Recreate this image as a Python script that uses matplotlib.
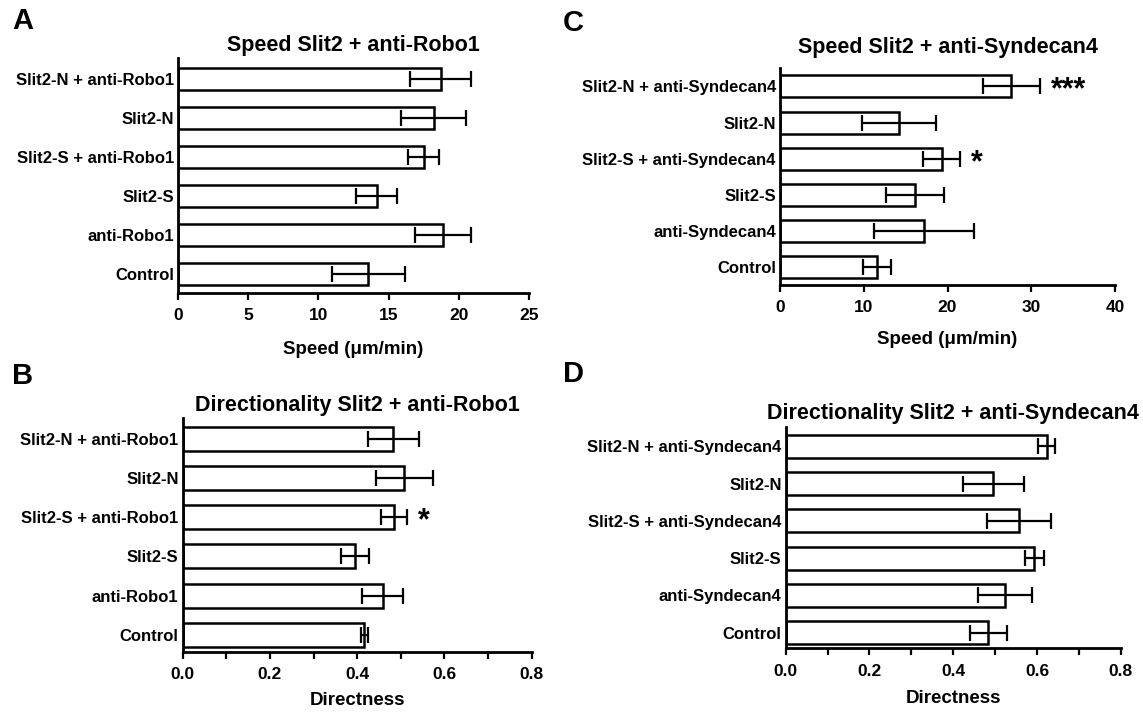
import matplotlib
matplotlib.use("Agg")
import matplotlib.pyplot as plt
from matplotlib.ticker import MultipleLocator

plt.rcParams['font.family'] = ['Liberation Sans', 'DejaVu Sans']
plt.rcParams['font.weight'] = 'bold'

# ---------------- data ----------------
robo_labels = ["Control", "anti-Robo1", "Slit2-S", "Slit2-S + anti-Robo1",
               "Slit2-N", "Slit2-N + anti-Robo1"]
synd_labels = ["Control", "anti-Syndecan4", "Slit2-S", "Slit2-S + anti-Syndecan4",
               "Slit2-N", "Slit2-N + anti-Syndecan4"]

speed_robo = [13.55, 18.9, 14.15, 17.5, 18.2, 18.7]
speed_robo_err = [2.6, 2.0, 1.45, 1.1, 2.3, 2.2]

dir_robo = [0.416, 0.458, 0.395, 0.484, 0.508, 0.483]
dir_robo_err = [0.008, 0.048, 0.033, 0.030, 0.065, 0.058]

speed_synd = [11.6, 17.2, 16.1, 19.3, 14.2, 27.6]
speed_synd_err = [1.7, 6.0, 3.45, 2.2, 4.45, 3.4]

dir_synd = [0.484, 0.524, 0.594, 0.557, 0.496, 0.623]
dir_synd_err = [0.045, 0.065, 0.023, 0.076, 0.072, 0.020]

stars_robo_dir = {3: "*"}
stars_synd_speed = {5: "***", 3: "*"}

W, H = 1143, 713
fig = plt.figure(figsize=(W / 100, H / 100), dpi=100)


def make_ax(left, right, top, bottom):
    return fig.add_axes([left / W, 1 - bottom / H, (right - left) / W, (bottom - top) / H])


def panel(ax, labels, vals, errs, xmax, major, minor, ylim, barh, xlabel, title,
          title_y, fmt, labelpad, stars=None):
    y = list(range(len(labels)))
    ax.barh(y, vals, height=barh, color='white', edgecolor='black', linewidth=1.8, zorder=2)
    ax.errorbar(vals, y, xerr=errs, fmt='none', ecolor='black', elinewidth=1.6,
                capsize=6, capthick=1.6, zorder=3)
    ax.set_xlim(0, xmax)
    ax.set_ylim(*ylim)
    ax.set_yticks(y)
    ax.set_yticklabels(labels, fontsize=12, fontweight='bold')
    ax.xaxis.set_major_locator(MultipleLocator(major))
    if minor:
        ax.xaxis.set_minor_locator(MultipleLocator(minor))
    ax.xaxis.set_major_formatter(matplotlib.ticker.FormatStrFormatter(fmt))
    for s in ['top', 'right']:
        ax.spines[s].set_visible(False)
    for s in ['left', 'bottom']:
        ax.spines[s].set_linewidth(2.0)
    ax.tick_params(axis='y', length=0, pad=3)
    ax.tick_params(axis='x', which='major', direction='out', length=5, width=1.6,
                   labelsize=12.5, pad=6)
    ax.tick_params(axis='x', which='minor', direction='out', length=5, width=1.6)
    for t in ax.get_xticklabels():
        t.set_fontweight('bold')
    ax.set_xlabel(xlabel, fontsize=13.5, fontweight='bold', labelpad=labelpad)
    bb = ax.get_position()
    fig.text(bb.x0 + bb.width / 2, 1 - title_y / H, title, fontsize=15.5,
             fontweight='bold', ha='center', va='center')
    if stars:
        for i, s in stars.items():
            ax.annotate(s, xy=(vals[i] + errs[i], i), xytext=(8, -3),
                        textcoords='offset points', ha='left', va='center',
                        fontsize=22, fontweight='bold')


axA = make_ax(178, 529, 58, 293)
panel(axA, robo_labels, speed_robo, speed_robo_err, 25, 5, None, (-0.49, 5.54), 0.58,
      "Speed (\u03bcm/min)", "Speed Slit2 + anti-Robo1", 46, '%d', 13)

axB = make_ax(182.7, 531.7, 418, 652)
panel(axB, robo_labels, dir_robo, dir_robo_err, 0.8, 0.2, 0.1, (-0.44, 5.53), 0.61,
      "Directness", "Directionality Slit2 + anti-Robo1", 406, '%.1f', 7, stars_robo_dir)

axC = make_ax(780, 1115, 68, 285)
panel(axC, synd_labels, speed_synd, speed_synd_err, 40, 10, None, (-0.5, 5.51), 0.61,
      "Speed (\u03bcm/min)", "Speed Slit2 + anti-Syndecan4", 48, '%d', 11, stars_synd_speed)

axD = make_ax(785.7, 1120.7, 427, 648.3)
panel(axD, synd_labels, dir_synd, dir_synd_err, 0.8, 0.2, 0.1, (-0.42, 5.52), 0.62,
      "Directness", "Directionality Slit2 + anti-Syndecan4", 413, '%.1f', 8)

for letter, x, y in [("A", 12, 21), ("B", 12, 376), ("C", 563, 23), ("D", 563, 374)]:
    fig.text(x / W, 1 - y / H, letter, fontsize=21, fontweight='bold', ha='left', va='center')

fig.savefig("out.png", dpi=100)
